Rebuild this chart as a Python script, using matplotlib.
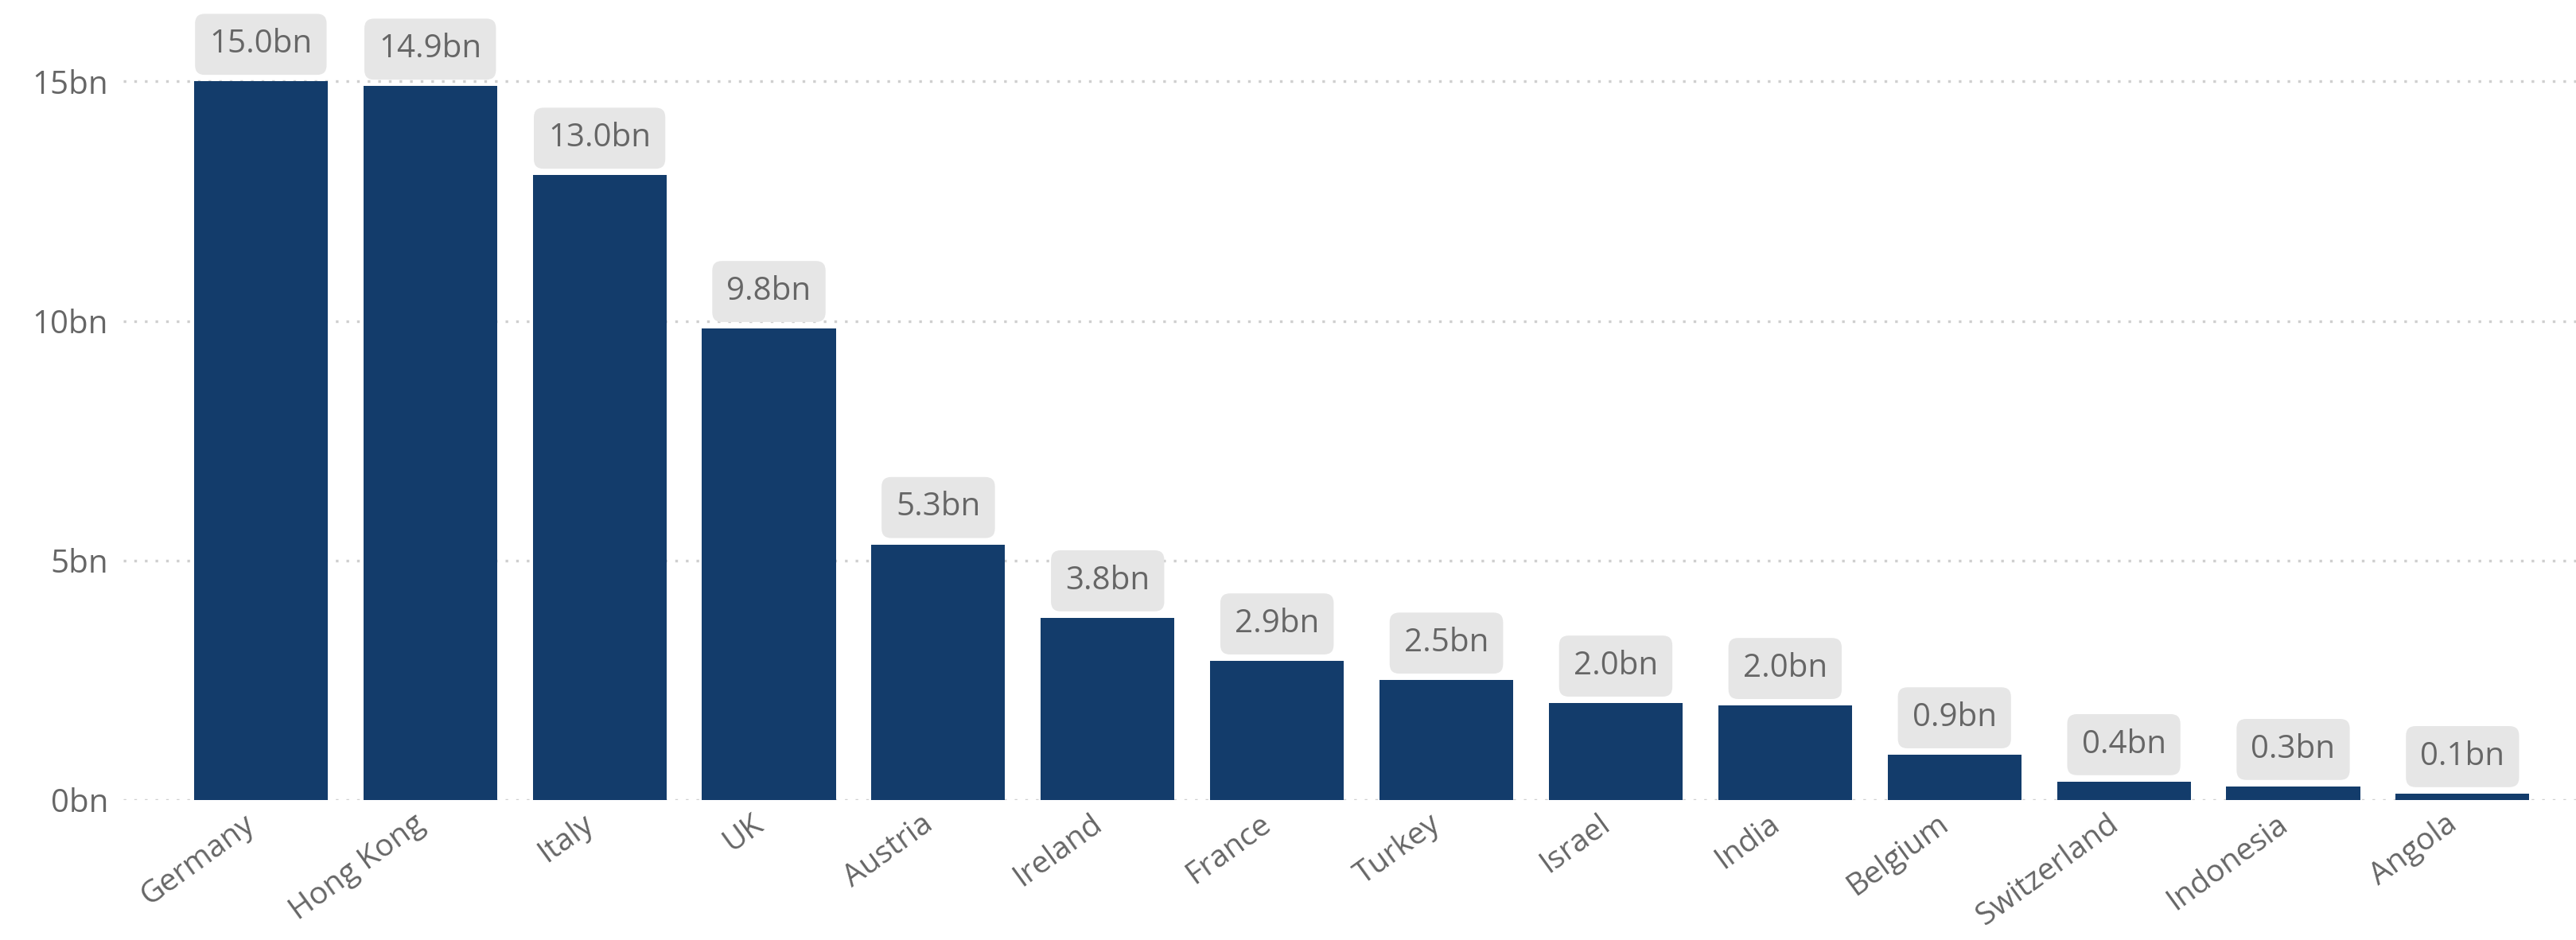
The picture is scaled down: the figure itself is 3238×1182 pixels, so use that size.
"""
Bar chart of values by country, with boxed value labels.
"""
import matplotlib.pyplot as plt
import matplotlib.ticker as mtick
import matplotlib.transforms as mtrans

plt.rcParams["font.family"] = ["Open Sans", "DejaVu Sans"]

countries = ['Germany', 'Hong Kong', 'Italy', 'UK', 'Austria', 'Ireland', 'France',
             'Turkey', 'Israel', 'India', 'Belgium', 'Switzerland', 'Indonesia', 'Angola']
values = [15.0, 14.9, 13.04, 9.84, 5.33, 3.8, 2.9, 2.5, 2.02, 1.97, 0.94, 0.38, 0.28, 0.13]
yticks = [0, 5, 10, 15]

bar_color = '#133c6b'
text_color = '#666666'

fig = plt.figure(figsize=(16.19, 5.91), dpi=200)
ax = fig.add_axes([0.048, 0.149, 0.952, 0.851])

x = range(len(countries))
bars = ax.bar(x, values, width=0.79, color=bar_color, zorder=3)

for xi, v in zip(x, values):
    ax.annotate('%.1fbn' % v, xy=(xi, v), xytext=(0, 9.5), textcoords='offset points',
                ha='center', va='bottom', fontsize=14.5, color=text_color, zorder=4,
                bbox=dict(boxstyle='round,pad=0.45,rounding_size=0.3', fc='#e6e6e6', ec='none'))

ax.set_xlim(-0.81, 13.67)
ax.set_ylim(0, 16.7)
ax.set_yticks(yticks)
ax.yaxis.set_major_formatter(mtick.FuncFormatter(lambda v, p: '%dbn' % v))
ax.set_xticks(list(x))
ax.set_xticklabels(countries, rotation=36, ha='right', rotation_mode='anchor')

ax.tick_params(axis='both', length=0, labelsize=14.5, labelcolor=text_color)
ax.tick_params(axis='x', labelsize=14)
ax.tick_params(axis='y', pad=7)
ax.tick_params(axis='x', pad=4)

# nudge the slanted labels a little to the left of the bar centres
shift = mtrans.ScaledTranslation(-8 / 72, 0, fig.dpi_scale_trans)
for lbl in ax.get_xticklabels():
    lbl.set_transform(lbl.get_transform() + shift)

ax.grid(axis='y', color='#cfcfcf', linestyle=(0, (1, 3)), linewidth=1.2, zorder=0)
for s in ax.spines.values():
    s.set_visible(False)

fig.savefig('out.png', dpi=200)
